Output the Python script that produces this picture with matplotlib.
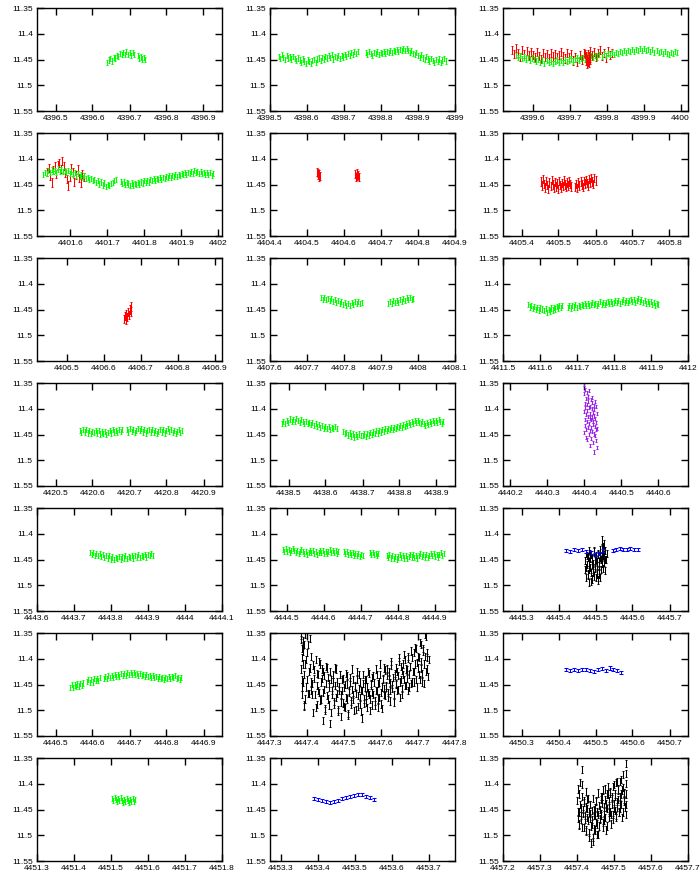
import numpy as np
import matplotlib.pyplot as plt
from matplotlib.ticker import MultipleLocator, FuncFormatter

plt.rcParams['font.family'] = ['Liberation Sans', 'DejaVu Sans']

# ---- light-curve data (HJD-2450000, magnitude) ----
# each segment: span (first, last time) + magnitudes in time order

# 4396
p01_g1_span = (4396.640, 4396.713)
p01_g1 = [11.456, 11.451, 11.448, 11.453, 11.446, 11.447, 11.442, 11.444, 11.438,
          11.441, 11.436, 11.440, 11.434, 11.441, 11.437, 11.443, 11.436, 11.440]
p01_g2_span = (4396.723, 4396.742)
p01_g2 = [11.443, 11.447, 11.445, 11.449, 11.446, 11.450]

# 4398
p02_g1_span = (4398.523, 4398.737)
p02_g1 = [11.444, 11.448, 11.441, 11.446, 11.450, 11.443, 11.447, 11.445, 11.449, 11.444,
          11.448, 11.452, 11.447, 11.451, 11.455, 11.449, 11.453, 11.457, 11.451, 11.454,
          11.458, 11.452, 11.450, 11.455, 11.449, 11.447, 11.452, 11.446, 11.449, 11.444,
          11.447, 11.443, 11.446, 11.441, 11.449, 11.444, 11.446, 11.442, 11.448, 11.443,
          11.445, 11.441, 11.444, 11.439, 11.442, 11.437, 11.440, 11.435, 11.438, 11.434]
p02_g2_span = (4398.759, 4398.975)
p02_g2 = [11.436, 11.440, 11.434, 11.438, 11.442, 11.436, 11.439, 11.435, 11.441, 11.437,
          11.439, 11.435, 11.438, 11.434, 11.437, 11.433, 11.436, 11.432, 11.435, 11.431,
          11.434, 11.430, 11.433, 11.429, 11.432, 11.428, 11.433, 11.436, 11.432, 11.438,
          11.441, 11.437, 11.443, 11.446, 11.441, 11.447, 11.450, 11.444, 11.449, 11.453,
          11.448, 11.452, 11.456, 11.450, 11.454, 11.449, 11.455, 11.451, 11.448, 11.453]

# 4399
p03_r1_span = (4399.545, 4399.815)
p03_r1 = [11.432, 11.440, 11.428, 11.437, 11.445, 11.431, 11.439, 11.434, 11.442, 11.436,
          11.441, 11.446, 11.435, 11.443, 11.449, 11.438, 11.445, 11.440, 11.447, 11.437,
          11.444, 11.439, 11.446, 11.441, 11.435, 11.443, 11.448, 11.438, 11.445, 11.440,
          11.452, 11.446, 11.455, 11.441, 11.450, 11.437, 11.444, 11.439, 11.433, 11.442,
          11.436, 11.445, 11.438, 11.431, 11.443, 11.437, 11.446, 11.434, 11.441, 11.438]
p03_r2_span = (4399.742, 4399.756)
p03_r2 = [11.440, 11.452, 11.446, 11.458, 11.449, 11.455, 11.443, 11.457, 11.450, 11.447]
p03_g1_span = (4399.555, 4399.990)
p03_g1 = [11.442, 11.446, 11.443, 11.448, 11.445, 11.449, 11.446, 11.451, 11.447, 11.450,
          11.453, 11.449, 11.455, 11.451, 11.457, 11.452, 11.456, 11.453, 11.458, 11.454,
          11.451, 11.456, 11.452, 11.455, 11.450, 11.454, 11.451, 11.449, 11.453, 11.450,
          11.447, 11.451, 11.448, 11.446, 11.450, 11.445, 11.448, 11.443, 11.446, 11.442,
          11.445, 11.441, 11.444, 11.439, 11.443, 11.438, 11.441, 11.437, 11.440, 11.436,
          11.439, 11.435, 11.437, 11.433, 11.436, 11.432, 11.435, 11.431, 11.434, 11.430,
          11.433, 11.429, 11.432, 11.428, 11.433, 11.430, 11.434, 11.431, 11.436, 11.432,
          11.437, 11.434, 11.439, 11.435, 11.438, 11.441, 11.436, 11.439, 11.434, 11.437]

# 4401
p04_r1_span = (4401.537, 4401.636)
p04_r1 = [11.425, 11.418, 11.433, 11.446, 11.422, 11.415, 11.430, 11.412, 11.408, 11.420,
          11.405, 11.414, 11.428, 11.440, 11.452, 11.435, 11.418, 11.426, 11.445, 11.432,
          11.421, 11.438, 11.447, 11.429, 11.436]
p04_g1_span = (4401.527, 4401.723)
p04_g1 = [11.430, 11.426, 11.429, 11.423, 11.427, 11.421, 11.425, 11.422, 11.426, 11.420,
          11.424, 11.421, 11.425, 11.422, 11.427, 11.423, 11.428, 11.425, 11.430, 11.427,
          11.432, 11.429, 11.434, 11.431, 11.437, 11.433, 11.439, 11.436, 11.441, 11.438,
          11.443, 11.440, 11.446, 11.442, 11.449, 11.445, 11.451, 11.447, 11.454, 11.450,
          11.452, 11.448, 11.446, 11.443, 11.441]
p04_g2_span = (4401.736, 4401.986)
p04_g2 = [11.444, 11.448, 11.445, 11.450, 11.446, 11.449, 11.452, 11.447, 11.451, 11.448,
          11.450, 11.446, 11.449, 11.445, 11.447, 11.443, 11.446, 11.442, 11.445, 11.441,
          11.443, 11.439, 11.442, 11.438, 11.441, 11.437, 11.440, 11.436, 11.439, 11.435,
          11.437, 11.433, 11.436, 11.432, 11.435, 11.431, 11.434, 11.430, 11.433, 11.429,
          11.431, 11.427, 11.430, 11.426, 11.429, 11.424, 11.428, 11.423, 11.427, 11.424,
          11.428, 11.425, 11.429, 11.426, 11.431, 11.427, 11.430, 11.426, 11.432, 11.429]

# 4404
p05_r1_span = (4404.527, 4404.534)
p05_r1 = [11.425, 11.432, 11.428, 11.436, 11.430, 11.434]
p05_r2_span = (4404.631, 4404.640)
p05_r2 = [11.430, 11.435, 11.428, 11.433, 11.431, 11.436]

# 4405
p06_r1_span = (4405.453, 4405.535)
p06_r1 = [11.444, 11.452, 11.440, 11.449, 11.456, 11.443, 11.451, 11.458, 11.446, 11.453,
          11.441, 11.450, 11.457, 11.445, 11.454, 11.448, 11.459, 11.443, 11.451, 11.456,
          11.447, 11.453, 11.442, 11.450, 11.455, 11.446, 11.452, 11.444, 11.449, 11.454]
p06_r2_span = (4405.545, 4405.600)
p06_r2 = [11.455, 11.449, 11.457, 11.446, 11.452, 11.444, 11.450, 11.455, 11.443, 11.448,
          11.441, 11.447, 11.452, 11.440, 11.446, 11.438, 11.444, 11.449, 11.437, 11.442]

# 4406
p07_r1_span = (4406.655, 4406.675)
p07_r1 = [11.468, 11.462, 11.470, 11.458, 11.464, 11.455, 11.460, 11.450, 11.454, 11.444]

# 4407
p08_g1_span = (4407.738, 4407.848)
p08_g1 = [11.427, 11.431, 11.426, 11.430, 11.428, 11.433, 11.429, 11.434, 11.431, 11.436,
          11.433, 11.438, 11.435, 11.441, 11.437, 11.442, 11.438, 11.443, 11.436, 11.440,
          11.435, 11.439, 11.434, 11.438, 11.436]
p08_g2_span = (4407.920, 4407.987)
p08_g2 = [11.438, 11.434, 11.439, 11.433, 11.437, 11.432, 11.436, 11.430, 11.434, 11.429,
          11.433, 11.427, 11.431, 11.426, 11.430, 11.428]

# 4411
p09_g1_span = (4411.568, 4411.605)
p09_g1 = [11.440, 11.445, 11.442, 11.448, 11.444, 11.450, 11.446, 11.451, 11.447, 11.449]
p09_g2_span = (4411.612, 4411.660)
p09_g2 = [11.452, 11.448, 11.455, 11.450, 11.453, 11.447, 11.451, 11.446, 11.449, 11.444,
          11.447, 11.443, 11.446, 11.442]
p09_g3_span = (4411.675, 4411.920)
p09_g3 = [11.446, 11.442, 11.447, 11.443, 11.445, 11.441, 11.446, 11.442, 11.444, 11.440,
          11.443, 11.439, 11.442, 11.438, 11.443, 11.440, 11.437, 11.441, 11.438, 11.442,
          11.439, 11.435, 11.440, 11.436, 11.441, 11.437, 11.434, 11.438, 11.435, 11.439,
          11.436, 11.432, 11.437, 11.433, 11.438, 11.434, 11.431, 11.436, 11.432, 11.437,
          11.433, 11.430, 11.435, 11.431, 11.436, 11.432, 11.429, 11.434, 11.431, 11.436,
          11.433, 11.438, 11.434, 11.439, 11.435, 11.440, 11.437, 11.442, 11.438, 11.441]

# 4420
p10_g1_span = (4420.566, 4420.680)
p10_g1 = [11.442, 11.446, 11.440, 11.445, 11.441, 11.447, 11.443, 11.448, 11.444, 11.446,
          11.442, 11.447, 11.443, 11.449, 11.445, 11.448, 11.444, 11.450, 11.446, 11.443,
          11.447, 11.441, 11.445, 11.442, 11.446, 11.440, 11.444, 11.441]
p10_g2_span = (4420.693, 4420.842)
p10_g2 = [11.441, 11.445, 11.439, 11.444, 11.440, 11.446, 11.442, 11.438, 11.443, 11.439,
          11.445, 11.441, 11.447, 11.443, 11.440, 11.445, 11.441, 11.446, 11.442, 11.448,
          11.444, 11.440, 11.445, 11.441, 11.447, 11.443, 11.439, 11.444, 11.440, 11.446,
          11.442, 11.448, 11.444, 11.441, 11.446, 11.443]

# 4438
p11_g1_span = (4438.482, 4438.630)
p11_g1 = [11.428, 11.424, 11.429, 11.422, 11.426, 11.420, 11.425, 11.421, 11.424, 11.419,
          11.423, 11.426, 11.421, 11.425, 11.428, 11.424, 11.429, 11.426, 11.431, 11.427,
          11.432, 11.429, 11.434, 11.431, 11.436, 11.433, 11.438, 11.434, 11.439, 11.435,
          11.440, 11.436, 11.439, 11.435, 11.438]
p11_g2_span = (4438.648, 4438.695)
p11_g2 = [11.444, 11.448, 11.446, 11.451, 11.447, 11.453, 11.449, 11.455, 11.450, 11.454,
          11.449, 11.452]
p11_g3_span = (4438.701, 4438.918)
p11_g3 = [11.452, 11.449, 11.454, 11.448, 11.451, 11.446, 11.450, 11.445, 11.448, 11.443,
          11.447, 11.442, 11.445, 11.441, 11.444, 11.439, 11.443, 11.438, 11.441, 11.437,
          11.440, 11.436, 11.439, 11.434, 11.437, 11.433, 11.436, 11.431, 11.434, 11.429,
          11.432, 11.427, 11.430, 11.425, 11.429, 11.423, 11.427, 11.422, 11.426, 11.429,
          11.424, 11.428, 11.432, 11.427, 11.430, 11.425, 11.429, 11.423, 11.427, 11.422,
          11.426, 11.421, 11.425, 11.428, 11.424]

# 4440
p12_p1_span = (4440.398, 4440.434)
p12_p1 = [11.352, 11.405, 11.371, 11.447, 11.389, 11.420, 11.362, 11.433, 11.398, 11.455,
          11.380, 11.412, 11.440, 11.368, 11.425, 11.392, 11.460, 11.403, 11.376, 11.437,
          11.415, 11.385, 11.450, 11.398, 11.428, 11.365, 11.418, 11.443, 11.395, 11.472,
          11.410, 11.382, 11.436, 11.421, 11.458, 11.400, 11.388, 11.445, 11.416, 11.378,
          11.430, 11.466, 11.407, 11.424, 11.393, 11.449, 11.414, 11.484, 11.402, 11.434,
          11.386, 11.452, 11.419, 11.441, 11.396, 11.427, 11.462, 11.410, 11.438, 11.476]

# 4443
p13_g1_span = (4443.743, 4443.913)
p13_g1 = [11.437, 11.441, 11.436, 11.442, 11.438, 11.443, 11.439, 11.444, 11.440, 11.446,
          11.442, 11.447, 11.443, 11.449, 11.445, 11.450, 11.446, 11.448, 11.444, 11.449,
          11.445, 11.447, 11.443, 11.448, 11.444, 11.446, 11.442, 11.447, 11.443, 11.445,
          11.441, 11.446, 11.442, 11.444, 11.440, 11.445, 11.441, 11.443, 11.439, 11.442]

# 4444
p14_g1_span = (4444.490, 4444.640)
p14_g1 = [11.431, 11.435, 11.429, 11.434, 11.430, 11.436, 11.432, 11.428, 11.433, 11.437,
          11.432, 11.438, 11.434, 11.430, 11.435, 11.439, 11.434, 11.440, 11.436, 11.432,
          11.437, 11.433, 11.438, 11.435, 11.440, 11.436, 11.432, 11.437, 11.433, 11.438,
          11.434, 11.439, 11.435, 11.431, 11.436, 11.432, 11.437, 11.433, 11.438, 11.435]
p14_g2_span = (4444.655, 4444.705)
p14_g2 = [11.435, 11.439, 11.434, 11.440, 11.436, 11.441, 11.437, 11.442, 11.438, 11.443,
          11.439, 11.444, 11.440, 11.442]
p14_g3_span = (4444.725, 4444.748)
p14_g3 = [11.436, 11.440, 11.437, 11.441, 11.438, 11.442, 11.439]
p14_g4_span = (4444.770, 4444.925)
p14_g4 = [11.442, 11.446, 11.441, 11.447, 11.443, 11.448, 11.444, 11.449, 11.445, 11.441,
          11.446, 11.442, 11.447, 11.443, 11.448, 11.444, 11.440, 11.445, 11.441, 11.446,
          11.442, 11.447, 11.443, 11.439, 11.444, 11.440, 11.445, 11.441, 11.446, 11.442,
          11.438, 11.443, 11.439, 11.444, 11.440, 11.445, 11.441, 11.437, 11.442, 11.439]

# 4445
p15_k1_span = (4445.471, 4445.530)
p15_k1 = [11.452, 11.470, 11.438, 11.485, 11.460, 11.445, 11.478, 11.432, 11.495, 11.465,
          11.448, 11.475, 11.440, 11.488, 11.458, 11.470, 11.435, 11.482, 11.452, 11.466,
          11.442, 11.478, 11.455, 11.490, 11.438, 11.462, 11.472, 11.430, 11.485, 11.450,
          11.412, 11.445, 11.468, 11.425, 11.455, 11.440, 11.472, 11.432, 11.450, 11.438]
p15_k2_span = (4445.475, 4445.525)
p15_k2 = [11.465, 11.442, 11.480, 11.455, 11.470, 11.438, 11.492, 11.460, 11.448, 11.475,
          11.432, 11.468, 11.485, 11.450, 11.462, 11.440, 11.478, 11.455, 11.445, 11.470,
          11.428, 11.458, 11.442, 11.420, 11.450]
p15_b1_span = (4445.420, 4445.520)
p15_b1 = [11.432, 11.434, 11.431, 11.433, 11.430, 11.434, 11.436, 11.440, 11.438, 11.433]
p15_b2_span = (4445.546, 4445.614)
p15_b2 = [11.433, 11.430, 11.428, 11.430, 11.431, 11.429, 11.431, 11.430]

# 4446
p16_g1_span = (4446.540, 4446.575)
p16_g1 = [11.455, 11.450, 11.456, 11.451, 11.454, 11.449, 11.453, 11.448, 11.452, 11.447]
p16_g2_span = (4446.585, 4446.620)
p16_g2 = [11.444, 11.440, 11.446, 11.441, 11.445, 11.439, 11.443, 11.438, 11.442, 11.437]
p16_g3_span = (4446.630, 4446.840)
p16_g3 = [11.438, 11.434, 11.439, 11.433, 11.437, 11.432, 11.436, 11.431, 11.435, 11.430,
          11.434, 11.429, 11.433, 11.428, 11.432, 11.427, 11.431, 11.426, 11.430, 11.427,
          11.431, 11.428, 11.432, 11.429, 11.433, 11.430, 11.434, 11.431, 11.435, 11.432,
          11.436, 11.433, 11.437, 11.434, 11.438, 11.435, 11.439, 11.436, 11.440, 11.437,
          11.438, 11.434, 11.439, 11.435, 11.437, 11.433, 11.438, 11.436, 11.440, 11.437]

# 4447
p17_k1_span = (4447.384, 4447.730)
p17_k1 = [11.362, 11.455, 11.385, 11.430, 11.352, 11.478, 11.401, 11.440, 11.372, 11.468,
          11.418, 11.462, 11.395, 11.448, 11.505, 11.421, 11.470, 11.402, 11.452, 11.489,
          11.431, 11.466, 11.410, 11.478, 11.438, 11.520, 11.425, 11.459, 11.497, 11.415,
          11.472, 11.436, 11.490, 11.448, 11.425, 11.505, 11.461, 11.430, 11.483, 11.452,
          11.418, 11.475, 11.445, 11.498, 11.462, 11.430, 11.512, 11.470, 11.441, 11.486,
          11.456, 11.495, 11.428, 11.478, 11.449, 11.506, 11.466, 11.437, 11.488, 11.460,
          11.479, 11.440, 11.500, 11.452, 11.468, 11.425, 11.492, 11.458, 11.475, 11.445,
          11.502, 11.462, 11.431, 11.487, 11.455, 11.472, 11.440, 11.495, 11.466, 11.428,
          11.478, 11.451, 11.490, 11.436, 11.469, 11.446, 11.482, 11.420, 11.462, 11.495,
          11.448, 11.476, 11.430, 11.465, 11.497, 11.441, 11.458, 11.418, 11.472, 11.452,
          11.433, 11.466, 11.425, 11.482, 11.446, 11.412, 11.458, 11.437, 11.470, 11.428,
          11.450, 11.418, 11.462, 11.432, 11.405, 11.475, 11.440, 11.423, 11.458, 11.410,
          11.440, 11.402, 11.452, 11.422, 11.395, 11.462, 11.430, 11.415, 11.448, 11.398,
          11.425, 11.388, 11.445, 11.410, 11.380, 11.455, 11.418, 11.398, 11.440, 11.372,
          11.405, 11.428, 11.380, 11.448, 11.395, 11.356, 11.420, 11.388, 11.435, 11.402]
p17_k2_span = (4447.386, 4447.725)
p17_k2 = [11.440, 11.375, 11.492, 11.410, 11.455, 11.388, 11.468, 11.425, 11.360, 11.445,
          11.470, 11.412, 11.438, 11.495, 11.428, 11.462, 11.405, 11.480, 11.445, 11.420,
          11.465, 11.432, 11.500, 11.448, 11.418, 11.478, 11.455, 11.525, 11.440, 11.470,
          11.445, 11.488, 11.420, 11.468, 11.502, 11.455, 11.430, 11.485, 11.462, 11.438,
          11.492, 11.450, 11.475, 11.432, 11.510, 11.462, 11.445, 11.482, 11.420, 11.470,
          11.455, 11.498, 11.440, 11.472, 11.430, 11.488, 11.462, 11.515, 11.448, 11.478,
          11.440, 11.485, 11.455, 11.425, 11.470, 11.500, 11.448, 11.465, 11.432, 11.490,
          11.462, 11.430, 11.478, 11.445, 11.410, 11.488, 11.455, 11.438, 11.470, 11.422,
          11.455, 11.420, 11.475, 11.440, 11.462, 11.405, 11.450, 11.485, 11.432, 11.448,
          11.425, 11.460, 11.398, 11.445, 11.415, 11.470, 11.430, 11.392, 11.452, 11.420,
          11.438, 11.400, 11.455, 11.415, 11.385, 11.445, 11.425, 11.378, 11.440, 11.408,
          11.395, 11.430, 11.368, 11.418, 11.445, 11.385, 11.410, 11.352, 11.425, 11.398]
p17_k3_span = (4447.384, 4447.392)
p17_k3 = [11.355, 11.420, 11.380, 11.470, 11.398, 11.365, 11.445, 11.410, 11.490, 11.372]

# 4450
p18_b1_span = (4450.420, 4450.570)
p18_b1 = [11.420, 11.422, 11.421, 11.423, 11.421, 11.420, 11.422, 11.424, 11.421, 11.419,
          11.422, 11.418, 11.421, 11.423, 11.426]

# 4451
p19_g1_span = (4451.503, 4451.565)
p19_g1 = [11.428, 11.432, 11.426, 11.431, 11.435, 11.429, 11.433, 11.427, 11.432, 11.436,
          11.430, 11.434, 11.428, 11.433, 11.437, 11.431, 11.435, 11.429, 11.434, 11.430]

# 4453
p20_b1_span = (4453.390, 4453.550)
p20_b1 = [11.428, 11.430, 11.432, 11.434, 11.436, 11.434, 11.432, 11.429, 11.426, 11.424,
          11.422, 11.420, 11.421, 11.424, 11.427, 11.430]

# 4457
p21_k1_span = (4457.400, 4457.530)
p21_k1 = [11.432, 11.468, 11.410, 11.455, 11.480, 11.398, 11.447, 11.470, 11.425, 11.372,
          11.458, 11.485, 11.436, 11.462, 11.415, 11.490, 11.448, 11.430, 11.472, 11.455,
          11.495, 11.440, 11.468, 11.515, 11.452, 11.478, 11.428, 11.505, 11.462, 11.490,
          11.446, 11.475, 11.432, 11.498, 11.460, 11.418, 11.482, 11.450, 11.470, 11.425,
          11.462, 11.438, 11.485, 11.412, 11.455, 11.472, 11.430, 11.490, 11.446, 11.420,
          11.448, 11.405, 11.466, 11.432, 11.455, 11.418, 11.478, 11.440, 11.425, 11.460,
          11.438, 11.402, 11.452, 11.420, 11.466, 11.395, 11.445, 11.430, 11.410, 11.456,
          11.425, 11.448, 11.392, 11.440, 11.412, 11.455, 11.382, 11.435, 11.418, 11.445]
p21_k2_span = (4457.402, 4457.528)
p21_k2 = [11.455, 11.420, 11.478, 11.440, 11.462, 11.402, 11.485, 11.450, 11.432, 11.470,
          11.492, 11.445, 11.465, 11.428, 11.505, 11.458, 11.440, 11.482, 11.470, 11.512,
          11.450, 11.488, 11.462, 11.435, 11.478, 11.455, 11.498, 11.442, 11.468, 11.430,
          11.458, 11.425, 11.475, 11.445, 11.410, 11.465, 11.438, 11.482, 11.420, 11.455,
          11.442, 11.415, 11.460, 11.428, 11.470, 11.405, 11.448, 11.425, 11.462, 11.398,
          11.435, 11.412, 11.455, 11.395, 11.440, 11.420, 11.465, 11.408, 11.430, 11.418]
p21_k3_span = (4457.532, 4457.533)
p21_k3 = [11.360, 11.380, 11.400, 11.420, 11.440, 11.460]

# x-range start of each panel (all panels span 0.5 d)
x_starts = [4396.45, 4398.50, 4399.52, 4401.51, 4404.40, 4405.35, 4406.42,
            4407.60, 4411.50, 4420.45, 4438.45, 4440.18, 4443.60, 4444.455,
            4445.25, 4446.45, 4447.30, 4450.25, 4451.30, 4453.27, 4457.20]

COL = {'g': '#00ff00', 'r': '#ff0000', 'p': '#a020f0', 'b': '#0000ff', 'k': '#000000'}
ERR = {'g': 0.005, 'r': 0.008, 'p': 0.003, 'b': 0.003, 'k': 0.007}
CAP = {'g': 0.8, 'r': 0.8, 'p': 0.6, 'b': 1.2, 'k': 0.6}

panels = [
    [('g', p01_g1_span, p01_g1), ('g', p01_g2_span, p01_g2)],
    [('g', p02_g1_span, p02_g1), ('g', p02_g2_span, p02_g2)],
    [('r', p03_r1_span, p03_r1), ('g', p03_g1_span, p03_g1), ('r', p03_r2_span, p03_r2)],
    [('r', p04_r1_span, p04_r1), ('g', p04_g1_span, p04_g1), ('g', p04_g2_span, p04_g2)],
    [('r', p05_r1_span, p05_r1), ('r', p05_r2_span, p05_r2)],
    [('r', p06_r1_span, p06_r1), ('r', p06_r2_span, p06_r2)],
    [('r', p07_r1_span, p07_r1)],
    [('g', p08_g1_span, p08_g1), ('g', p08_g2_span, p08_g2)],
    [('g', p09_g1_span, p09_g1), ('g', p09_g2_span, p09_g2), ('g', p09_g3_span, p09_g3)],
    [('g', p10_g1_span, p10_g1), ('g', p10_g2_span, p10_g2)],
    [('g', p11_g1_span, p11_g1), ('g', p11_g2_span, p11_g2), ('g', p11_g3_span, p11_g3)],
    [('p', p12_p1_span, p12_p1)],
    [('g', p13_g1_span, p13_g1)],
    [('g', p14_g1_span, p14_g1), ('g', p14_g2_span, p14_g2), ('g', p14_g3_span, p14_g3),
     ('g', p14_g4_span, p14_g4)],
    [('k', p15_k1_span, p15_k1), ('k', p15_k2_span, p15_k2),
     ('b', p15_b1_span, p15_b1), ('b', p15_b2_span, p15_b2)],
    [('g', p16_g1_span, p16_g1), ('g', p16_g2_span, p16_g2), ('g', p16_g3_span, p16_g3)],
    [('k', p17_k1_span, p17_k1), ('k', p17_k2_span, p17_k2), ('k', p17_k3_span, p17_k3)],
    [('b', p18_b1_span, p18_b1)],
    [('g', p19_g1_span, p19_g1)],
    [('b', p20_b1_span, p20_b1)],
    [('k', p21_k1_span, p21_k1), ('k', p21_k2_span, p21_k2), ('k', p21_k3_span, p21_k3)],
]

W, H = 700, 875
fig = plt.figure(figsize=(W / 100, H / 100), dpi=100)

for i, segs in enumerate(panels):
    r, c = divmod(i, 3)
    left = 37 + 233 * c
    top = 8 + 125 * r
    ax = fig.add_axes([left / W, 1 - (top + 103) / H, 185 / W, 103 / H])
    for key, (t0, t1), mags in segs:
        t = np.linspace(t0, t1, len(mags))
        ax.errorbar(t, mags, yerr=ERR[key], fmt='none', ecolor=COL[key],
                    elinewidth=0.75, capsize=CAP[key], capthick=0.75)
    x0 = x_starts[i]
    ax.set_xlim(x0, x0 + 0.5)
    ax.set_ylim(11.55, 11.35)
    ax.xaxis.set_major_locator(MultipleLocator(0.1))
    ax.yaxis.set_major_locator(MultipleLocator(0.05))
    ax.xaxis.set_major_formatter(FuncFormatter(lambda v, p: f'{v:g}'))
    ax.yaxis.set_major_formatter(FuncFormatter(lambda v, p: f'{v:g}'))
    ax.tick_params(direction='in', length=5, width=1.0, top=True, right=True,
                   labelsize=6, pad=3)
    for s in ax.spines.values():
        s.set_linewidth(1.0)

fig.savefig('out.png', dpi=100)
